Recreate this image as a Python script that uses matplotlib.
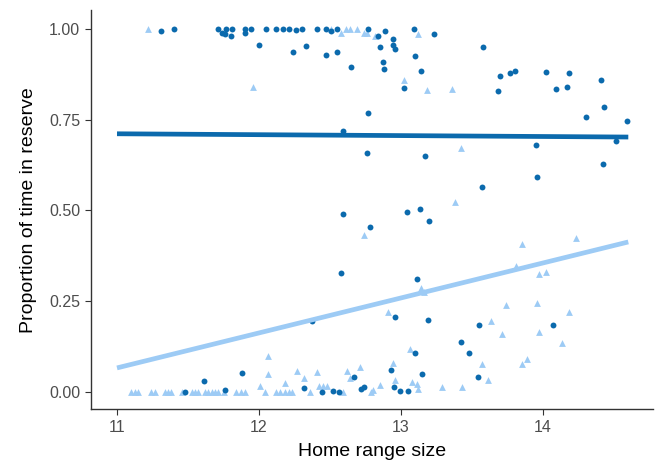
import matplotlib.pyplot as plt
import numpy as np

plt.rcParams['font.family'] = ['Liberation Sans', 'DejaVu Sans']

# dark group (circles)
dark_x = [11.31, 11.40, 11.71, 11.74, 11.76, 11.77, 11.80, 11.81, 11.90, 11.90, 11.94, 12.00,
          12.05, 12.12, 12.17, 12.21, 12.26, 12.30, 12.24, 12.33, 12.41, 12.47, 12.51, 12.55,
          12.47, 12.55, 12.77, 12.84, 12.89, 12.65, 12.85, 12.87, 12.88, 12.77, 12.59, 12.94,
          12.94, 12.96, 13.09, 13.23, 13.10, 13.14, 13.02, 13.58, 13.68, 13.70, 13.77, 13.80,
          14.02, 14.09, 14.17, 14.18, 14.41, 14.43, 14.30, 14.59, 13.95, 14.51,
          12.76, 13.17, 13.96, 14.42, 13.57, 12.59, 12.78, 13.04, 13.13, 13.20, 12.58, 13.11,
          12.96, 13.19, 12.37, 13.55, 14.07,
          13.42, 13.48, 13.10, 12.93, 13.15, 13.54, 12.95, 12.99, 13.05, 11.48, 11.76, 11.61,
          11.88, 12.32, 12.44, 12.52, 12.56, 12.67, 12.72, 12.74]
dark_y = [0.995, 1.0, 1.0, 0.99, 0.985, 1.0, 0.98, 1.0, 1.0, 0.99, 1.0, 0.956,
          1.0, 1.0, 1.0, 1.0, 0.997, 1.0, 0.937, 0.953, 1.0, 1.0, 0.995, 1.0,
          0.928, 0.937, 1.0, 0.98, 0.995, 0.894, 0.951, 0.91, 0.89, 0.768, 0.719, 0.973,
          0.955, 0.944, 1.0, 0.985, 0.926, 0.885, 0.836, 0.949, 0.829, 0.871, 0.878, 0.885,
          0.88, 0.835, 0.841, 0.878, 0.86, 0.784, 0.758, 0.745, 0.679, 0.69,
          0.657, 0.650, 0.593, 0.628, 0.564, 0.489, 0.455, 0.496, 0.505, 0.471, 0.327, 0.311,
          0.207, 0.198, 0.194, 0.183, 0.183,
          0.137, 0.106, 0.107, 0.06, 0.049, 0.04, 0.013, 0.002, 0.002, 0.0, 0.005, 0.031,
          0.053, 0.01, 0.0, 0.003, 0.0, 0.04, 0.008, 0.013]

# light group (triangles)
light_x = [11.22, 11.96, 12.51, 12.58, 12.61, 12.64, 12.69, 12.74, 12.76, 12.82, 13.12, 13.02,
           13.18, 13.36, 13.42, 13.38, 12.74, 13.85, 14.23, 13.14, 13.16, 13.81, 13.97, 14.02,
           12.91, 13.74, 13.96, 14.18, 13.63, 13.71, 13.97, 14.13, 13.06, 12.94, 13.57, 13.85,
           13.89, 13.61, 12.96, 13.08, 13.11, 13.12, 12.80, 12.85, 13.29, 13.43,
           11.10, 11.13, 11.15, 11.24, 11.27, 11.34, 11.36, 11.38, 11.46, 11.53, 11.55, 11.57,
           11.62, 11.64, 11.67, 11.69, 11.71, 11.75, 11.84, 11.87, 11.90, 12.04, 12.12, 12.15,
           12.18, 12.21, 12.23, 12.36, 12.59, 12.79,
           12.01, 12.06, 12.06, 12.18, 12.27, 12.32, 12.41, 12.42, 12.45, 12.48, 12.62, 12.71,
           12.64]
light_y = [1.0, 0.839, 1.0, 0.99, 1.0, 1.0, 1.0, 0.99, 0.99, 0.98, 0.985, 0.86,
           0.832, 0.834, 0.671, 0.523, 0.432, 0.408, 0.423, 0.287, 0.275, 0.347, 0.324, 0.33,
           0.221, 0.24, 0.245, 0.22, 0.195, 0.159, 0.164, 0.136, 0.118, 0.08, 0.076, 0.076,
           0.091, 0.033, 0.033, 0.028, 0.022, 0.007, 0.005, 0.018, 0.013, 0.013,
           0.0, 0.0, 0.0, 0.0, 0.0, 0.0, 0.0, 0.0, 0.0, 0.0, 0.0, 0.0,
           0.0, 0.0, 0.0, 0.0, 0.0, 0.0, 0.0, 0.0, 0.0, 0.0, 0.0, 0.0,
           0.0, 0.0, 0.0, 0.0, 0.0, 0.0,
           0.015, 0.099, 0.05, 0.024, 0.057, 0.037, 0.054, 0.015, 0.015, 0.015, 0.057, 0.068,
           0.038]

# fitted lines (endpoints)
line_x = [11.0, 14.6]
dark_line_y = [0.711, 0.702]
light_line_y = [0.066, 0.413]

x_ticks = [11, 12, 13, 14]
y_ticks = [0.0, 0.25, 0.5, 0.75, 1.0]

dark_col = '#0B6AAD'
light_col = '#9DCBF5'

fig = plt.figure(figsize=(6.56, 4.65), dpi=100)
ax = fig.add_axes([0.1383, 0.1198, 0.8567, 0.8587])

ax.scatter(light_x, light_y, marker='^', s=24, color=light_col, linewidths=0, zorder=2)
ax.scatter(dark_x, dark_y, marker='o', s=18, color=dark_col, linewidths=0, zorder=3)
ax.plot(line_x, dark_line_y, color=dark_col, lw=3.4, solid_capstyle='butt', zorder=4)
ax.plot(line_x, light_line_y, color=light_col, lw=3.4, solid_capstyle='butt', zorder=4)

ax.set_xlim(10.815, 14.772)
ax.set_ylim(-0.048, 1.052)
ax.set_xticks(x_ticks)
ax.set_yticks(y_ticks)
ax.set_yticklabels([f'{v:.2f}' for v in y_ticks])

for side in ['top', 'right']:
    ax.spines[side].set_visible(False)
for side in ['left', 'bottom']:
    ax.spines[side].set_color('#333333')
    ax.spines[side].set_linewidth(1.0)
ax.tick_params(colors='#333333', labelcolor='#4D4D4D', labelsize=11.5, length=4, width=0.8)

ax.set_xlabel('Home range size', fontsize=14, labelpad=6)
ax.set_ylabel('Proportion of time in reserve', fontsize=14, labelpad=9)

fig.savefig('out.png', dpi=100)
